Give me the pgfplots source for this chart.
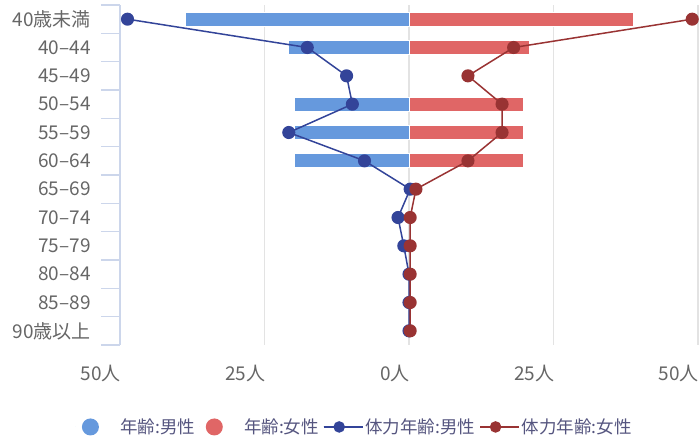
\documentclass[border=0pt]{standalone}
\usepackage{pgfplots}
\pgfplotsset{compat=1.18}
\usepackage{fontspec}
\setmainfont{Noto Sans CJK JP}
\definecolor{mbar}{HTML}{6699DD}
\definecolor{fbar}{HTML}{E06666}
\definecolor{mline}{HTML}{334499}
\definecolor{fline}{HTML}{993333}
\definecolor{axc}{HTML}{CCD6EB}
\definecolor{gridc}{HTML}{E3E3E3}
\definecolor{lblc}{HTML}{666666}
\definecolor{legc}{HTML}{55557F}
\pgfplotsset{
  dotlegend/.style={legend image code/.code={\path (0pt,0pt) -- (42pt,0pt); \fill[##1,draw=none] (14.7pt,0pt) circle (8.5pt);}},
  linelegend/.style={legend image code/.code={\path (0pt,0pt) -- (39pt,0pt); \draw[##1,mark repeat=2,mark phase=2,mark size=5pt] plot coordinates {(0pt,0pt)(15.5pt,0pt)(31pt,0pt)};}},
}
\begin{document}
\begin{tikzpicture}
\useasboundingbox (0,0) rectangle (699pt,-436pt);
\begin{axis}[
  at={(120pt,-345pt)}, anchor=south west,
  scale only axis, width=578pt, height=340pt,
  xmin=-50, xmax=50, ymin=-0.5, ymax=11.5,
  y dir=reverse, clip=false,
  axis lines*=left,
  x axis line style={draw=none},
  y axis line style={draw=axc, line width=1.3pt},
  xtick={-50,-25,0,25,50},
  xticklabels={50人,25人,0人,25人,50人},
  xtick style={draw=none},
  xticklabel style={anchor=base east, inner sep=0pt, yshift=-35pt, xshift=1pt, text=lblc, font=\fontsize{19pt}{22pt}\selectfont},
  xmajorgrids, grid style={draw=gridc, line width=1.4pt},
  ytick={0,...,11},
  yticklabels={40歳未満,40–44,45–49,50–54,55–59,60–64,65–69,70–74,75–79,80–84,85–89,90歳以上},
  yticklabel style={anchor=east, inner sep=0pt, xshift=-29pt, text=lblc, font=\fontsize{19pt}{22pt}\selectfont},
  minor ytick={-0.5,0.5,...,11.5},
  major tick length=0pt, minor tick length=19pt, tick align=outside,
  every minor y tick/.append style={draw=axc, line width=1.3pt},
  every major y tick/.append style={draw=none},
  legend style={at={(-0.083,-0.241)}, anchor=west, draw=none, fill=none,
    legend columns=-1, text=legc, font=\fontsize{17.5pt}{21pt}\selectfont,
    cells={inner sep=0pt},
    /tikz/every even column/.append style={column sep=2pt}},
]
\addplot[xbar, bar width=14pt, bar shift=0pt, fill=mbar, draw=white, line width=1pt, dotlegend]
  coordinates {(-38.6,0) (-20.8,1) (-19.8,3) (-19.8,4) (-19.8,5)};
\addlegendentry{年齢:男性}
\addplot[xbar, bar width=14pt, bar shift=0pt, fill=fbar, draw=white, line width=1pt, dotlegend]
  coordinates {(38.8,0) (20.8,1) (19.8,3) (19.8,4) (19.8,5)};
\addlegendentry{年齢:女性}
\addplot[mline, line width=1.5pt, mark=*, mark size=5.8pt, mark options={fill=mline, draw=none}, linelegend]
  coordinates {(-48.7,0) (-17.6,1) (-10.8,2) (-9.8,3) (-20.8,4) (-7.7,5) (0.2,6) (-1.9,7) (-0.9,8) (0,9) (0,10) (0,11)};
\addlegendentry{体力年齢:男性}
\addplot[fline, line width=1.5pt, mark=*, mark size=5.8pt, mark options={fill=fline, draw=none}, linelegend]
  coordinates {(49,0) (18.1,1) (10.2,2) (16.1,3) (16.1,4) (10.2,5) (1.2,6) (0.2,7) (0.2,8) (0.2,9) (0.2,10) (0.2,11)};
\addlegendentry{体力年齢:女性}
\end{axis}
\end{tikzpicture}
\end{document}
